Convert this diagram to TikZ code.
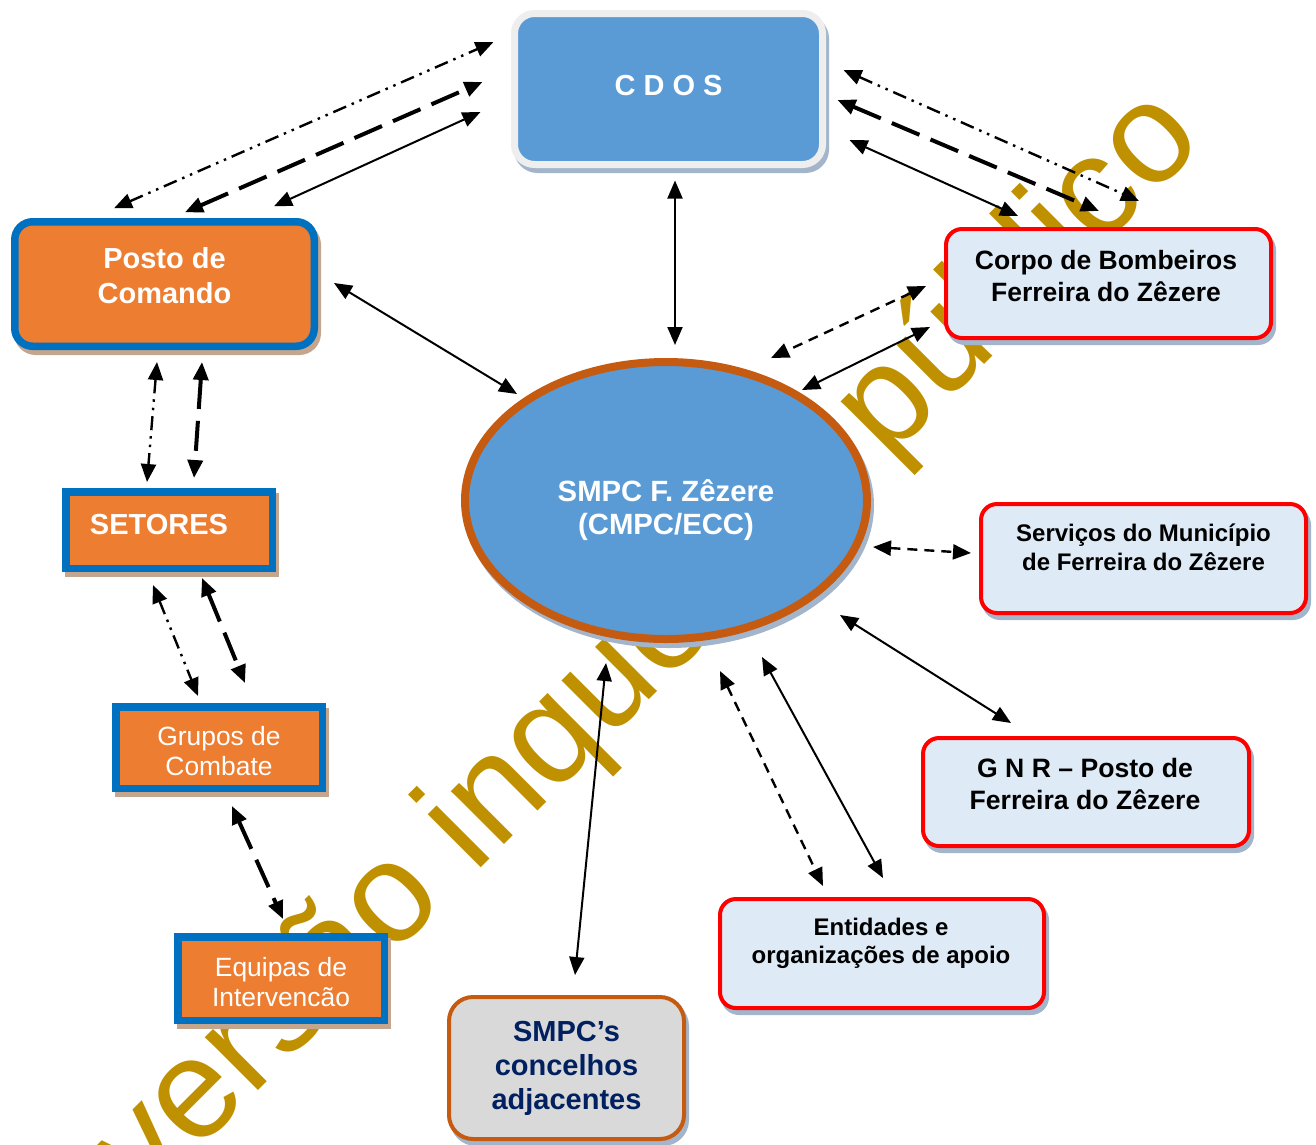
\documentclass[tikz,border=0pt]{standalone}
\usepackage{fontspec}
\setmainfont{Liberation Sans}
\usetikzlibrary{arrows.meta,calc,shapes.geometric}

\definecolor{orangefill}{HTML}{ED7D31}
\definecolor{blueframe}{HTML}{0070C0}
\definecolor{bluefill}{HTML}{5B9BD5}
\definecolor{paleblue}{HTML}{DEEBF7}
\definecolor{rust}{HTML}{C55A11}
\definecolor{navytext}{HTML}{002060}
\definecolor{goldmark}{HTML}{BF9000}
\definecolor{tanshadow}{HTML}{C4A68E}
\definecolor{greyshadow}{HTML}{A2B5CB}
\definecolor{framegrey}{HTML}{EEEEEE}
\definecolor{greyfill}{HTML}{D9D9D9}

\tikzset{
  shadowed/.style={preaction={draw=#1, fill=#1, transform canvas={xshift=3pt, yshift=-5pt}}},
  lbl/.style={align=center, inner sep=0pt},
  % orange command boxes
  cmdbox/.style={shadowed=tanshadow, draw=blueframe, fill=orangefill, line width=7.5pt,
    inner sep=0pt, text=white},
  unitbox/.style={cmdbox, minimum width=206.5pt},
  % red partner boxes
  partner/.style={shadowed=greyshadow, draw=red, fill=paleblue, line width=4pt,
    rounded corners=16pt, inner sep=0pt, minimum width=325pt, minimum height=109pt},
  % connectors
  arrsolid/.style={<->, line width=2pt},
  arrdash/.style={<->, line width=2.4pt, dash pattern=on 10pt off 7pt},
  arrlong/.style={<->, line width=4pt, dash pattern=on 30pt off 12pt},
  arrdot/.style={<->, line width=2.4pt, dash pattern=on 14pt off 6pt on 2.5pt off 6pt on 2.5pt off 6pt}
}

\begin{document}
\begin{tikzpicture}[x=1pt, y=-1pt, >={Triangle[length=18pt,width=15pt]}]
\useasboundingbox (0,0) rectangle (1316,1144);
\clip (0,0) rectangle (1316,1144);

% watermark
\node[rotate=45, anchor=base, inner sep=0pt, text=goldmark, font=\fontsize{142}{142}\selectfont]
  (marca) at (676,673) {versão inquérito público};

% boxes
\node[shadowed=greyshadow, draw=framegrey, fill=bluefill, line width=7pt, rounded corners=20pt,
  minimum width=308pt, minimum height=151pt, inner sep=0pt,
  label={[lbl, yshift=3.5pt, text=white, font=\bfseries\fontsize{29}{34}\selectfont]center:C D O S}]
  (cdos) at (668.5,89) {};

\node[cmdbox, rounded corners=18pt, minimum width=299.5pt, minimum height=124.5pt,
  label={[lbl, yshift=8.5pt, text=white, font=\bfseries\fontsize{29}{35}\selectfont]center:{Posto de\\Comando}}]
  (posto) at (164.5,284) {};

\node[unitbox, minimum height=76.5pt,
  label={[lbl, xshift=-10pt, yshift=5.5pt, text=white, font=\bfseries\fontsize{29}{34}\selectfont]center:SETORES}]
  (setores) at (169,530) {};

\node[unitbox, minimum height=81.5pt,
  label={[lbl, yshift=-3.5pt, text=white, font=\fontsize{26.4}{30}\selectfont]center:{Grupos de\\Combate}}]
  (grupos) at (219,747.5) {};

\node[unitbox, minimum height=83.5pt,
  label={[lbl, yshift=-3.5pt, text=white, font=\fontsize{26.4}{30}\selectfont]center:{Equipas de\\Intervencão}}]
  (equipas) at (281,978.5) {};

\node[ellipse, shadowed=greyshadow, draw=rust, fill=bluefill, line width=8pt,
  minimum width=402pt, minimum height=277pt, inner sep=0pt,
  label={[lbl, yshift=-10pt, text=white, font=\bfseries\fontsize{29.3}{33}\selectfont]center:{SMPC F. Zêzere\\(CMPC/ECC)}}]
  (smpc) at (666,500.5) {};

\node[partner,
  label={[lbl, xshift=-2.5pt, yshift=7.5pt, font=\bfseries\fontsize{26.5}{32}\selectfont]center:{Corpo de Bombeiros\\Ferreira do Zêzere}}]
  (corpo) at (1108.5,283.5) {};

\node[partner,
  label={[lbl, yshift=11pt, font=\bfseries\fontsize{24}{29}\selectfont]center:{Serviços do Município\\de Ferreira do Zêzere}}]
  (servicos) at (1143.5,558.5) {};

\node[partner, minimum width=326pt, minimum height=108pt,
  label={[lbl, xshift=-1pt, yshift=8pt, font=\bfseries\fontsize{26.6}{32}\selectfont]center:{G N R – Posto de\\Ferreira do Zêzere}}]
  (gnr) at (1086,792) {};

\node[partner, minimum width=324pt,
  label={[lbl, xshift=-1pt, yshift=10pt, font=\bfseries\fontsize{24}{28}\selectfont]center:{Entidades e\\organizações de apoio}}]
  (entidades) at (882,953.5) {};

\node[shadowed=greyshadow, draw=rust, fill=greyfill, line width=4pt, rounded corners=24pt,
  minimum width=235pt, minimum height=142pt, inner sep=0pt,
  label={[lbl, yshift=0pt, text=navytext, font=\bfseries\fontsize{29}{34}\selectfont]center:{SMPC’s\\concelhos\\adjacentes}}]
  (adjac) at (566.5,1068) {};

% Posto <-> CDOS
\draw[arrdot] ($(posto.north)+(-50.5,-9.75)$) -- ($(cdos.west)+(-17.5,-47)$);
\draw[arrlong] ($(posto.north)+(20.5,-5.75)$) -- ($(cdos.west)+(-28.5,-7)$);
\draw[arrsolid] ($(posto.north)+(109.5,-11.75)$) -- ($(cdos.west)+(-30.5,23)$);
% Posto <-> SMPC
\draw[arrsolid] ($(posto.east)+(16,-1)$) -- ($(smpc.center)+(-149,-106.5)$);
% Posto <-> SETORES <-> Grupos <-> Equipas
\draw[arrdot] ($(posto.south)+(-7.5,12)$) -- ($(setores.north)+(-22,-6)$);
\draw[arrlong] ($(posto.south)+(37.5,12)$) -- ($(setores.north)+(25,-10)$);
\draw[arrdot] ($(setores.south)+(-16,13)$) -- ($(grupos.north)+(-21,-7)$);
\draw[arrlong] ($(setores.south)+(33,6)$) -- ($(grupos.north)+(26,-20)$);
\draw[arrlong] ($(grupos.south)+(13,14)$) -- ($(equipas.north)+(2,-14)$);
% CDOS <-> SMPC
\draw[arrsolid] ($(cdos.south)+(6.5,12.5)$) -- ($(smpc.center)+(9,-155.5)$);
% CDOS <-> Corpo
\draw[arrdot] ($(cdos.east)+(17.5,-19)$) -- ($(corpo.north)+(30.5,-26)$);
\draw[arrlong] ($(cdos.east)+(11.5,11)$) -- ($(corpo.north)+(-9.5,-16)$);
\draw[arrsolid] ($(cdos.east)+(23.5,51)$) -- ($(corpo.north)+(-90.5,-11)$);
% Corpo <-> SMPC
\draw[arrdash] ($(corpo.west)+(-18,2.5)$) -- ($(smpc.center)+(105,-142.5)$);
\draw[arrsolid] ($(corpo.west)+(-14,43.5)$) -- ($(smpc.center)+(136,-110.5)$);
% SMPC <-> others
\draw[arrdash] ($(smpc.center)+(207,46.5)$) -- ($(servicos.west)+(-8,-5.5)$);
\draw[arrsolid] ($(smpc.center)+(174,114.5)$) -- ($(gnr.north)+(-75,-13)$);
\draw[arrdash] ($(smpc.center)+(54,170.5)$) -- ($(entidades.north)+(-59,-11)$);
\draw[arrsolid] ($(smpc.center)+(96,156.5)$) -- ($(entidades.north)+(1,-19)$);
\draw[arrsolid] ($(smpc.center)+(-60,162.5)$) -- ($(adjac.north)+(8.5,-20)$);
\end{tikzpicture}
\end{document}
